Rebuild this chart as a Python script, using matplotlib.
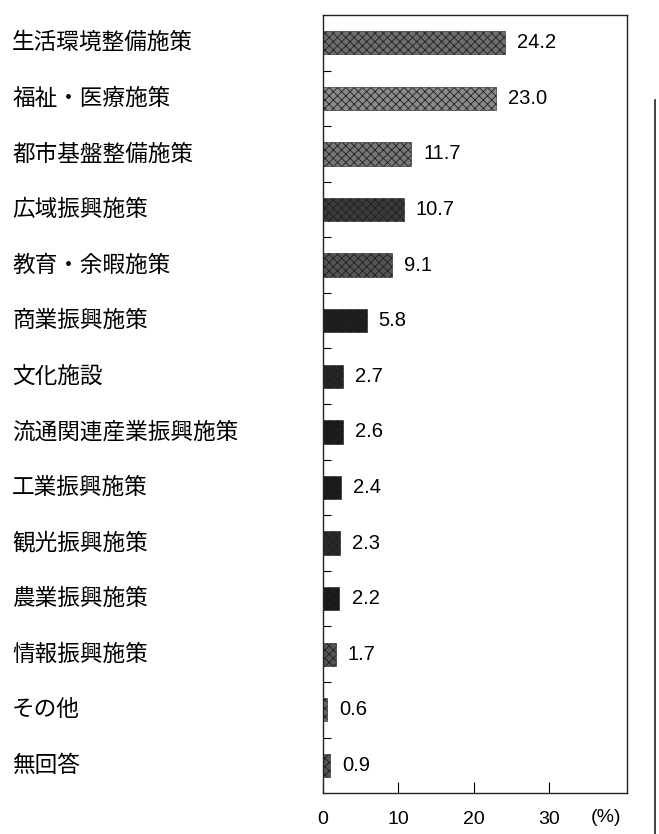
import numpy as np
import matplotlib.pyplot as plt
from matplotlib.ticker import FixedLocator

plt.rcParams['font.family'] = ['Noto Sans CJK JP', 'DejaVu Sans']
plt.rcParams['hatch.linewidth'] = 0.6

categories = ['生活環境整備施策', '福祉・医療施策', '都市基盤整備施策', '広域振興施策',
              '教育・余暇施策', '商業振興施策', '文化施設', '流通関連産業振興施策',
              '工業振興施策', '観光振興施策', '農業振興施策', '情報振興施策',
              'その他', '無回答']
values = [24.2, 23.0, 11.7, 10.7, 9.1, 5.8, 2.7, 2.6, 2.4, 2.3, 2.2, 1.7, 0.6, 0.9]
shades = ['#6e6e6e', '#8a8a8a', '#777777', '#3a3a3a', '#555555', '#1e1e1e', '#262626',
          '#1a1a1a', '#1a1a1a', '#2a2a2a', '#1a1a1a', '#555555', '#666666', '#555555']
xticks = [0, 10, 20, 30]

fig = plt.figure(figsize=(6.59, 8.34), dpi=100)
ax = fig.add_axes([0.490, 0.049, 0.461, 0.933])

y = np.arange(len(categories))
bars = ax.barh(y, values, height=0.42, color=shades, edgecolor='#202020',
               linewidth=0.4, hatch='xxxx')

for yi, v in zip(y, values):
    ax.text(v + 1.6, yi, f'{v:.1f}', va='center', ha='left', fontsize=14.5,
            family='Liberation Sans')

ax.set_xlim(0, 40.3)
ax.set_ylim(len(categories) - 0.5, -0.5)

ax.set_xticks(xticks)
ax.set_xticklabels([str(t) for t in xticks], fontsize=14, family='Liberation Sans')
ax.tick_params(axis='x', direction='in', length=8, width=0.8, pad=13)
ax.text(37.6, -0.021, '(%)', transform=ax.get_xaxis_transform(), ha='center',
        va='top', fontsize=14, family='Liberation Sans')

ax.set_yticks([])
ax.yaxis.set_minor_locator(FixedLocator(np.arange(0.5, len(categories) - 1, 1)))
ax.tick_params(axis='y', which='minor', direction='in', length=6, width=0.8)

for yi, c in zip(y, categories):
    ax.text(-1.023, yi, c, transform=ax.get_yaxis_transform(), ha='left',
            va='center', fontsize=16.3)

for s in ax.spines.values():
    s.set_linewidth(1.0)
    s.set_color('#222222')

# page edge from the scan
fig.add_artist(plt.Line2D([0.994, 0.994], [0.0, 0.88], color='#222222', lw=1.2))

fig.savefig('out.png', dpi=100)
